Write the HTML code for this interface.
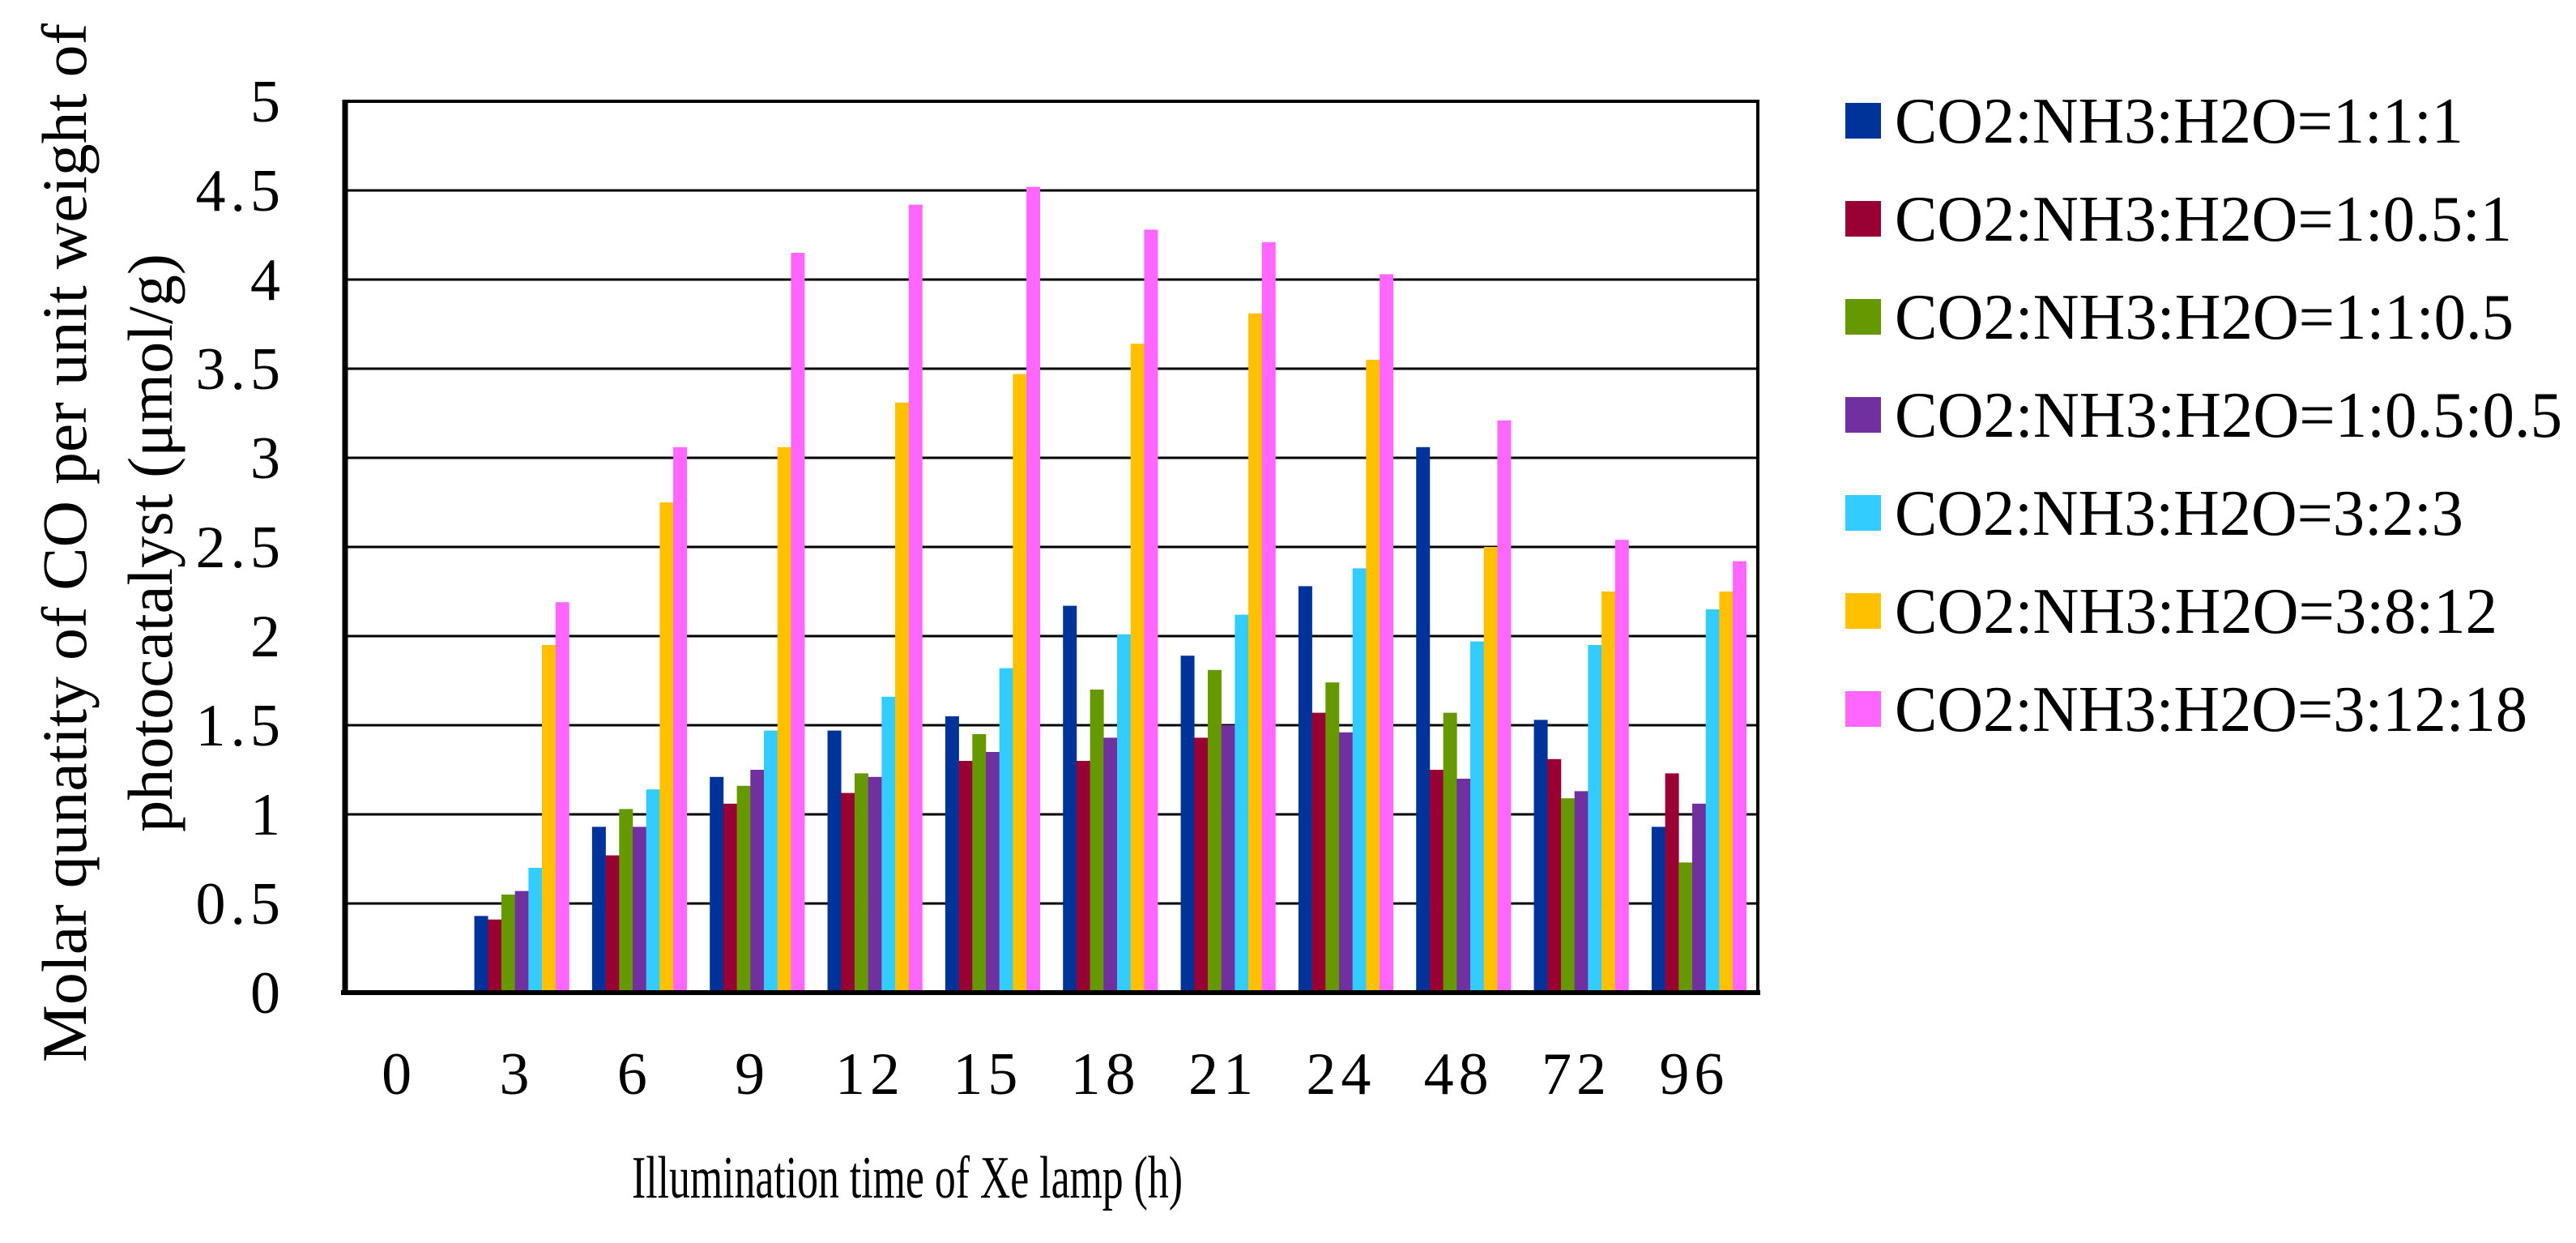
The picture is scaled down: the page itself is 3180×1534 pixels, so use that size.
<!DOCTYPE html>
<html><head><meta charset="utf-8"><style>
html,body{margin:0;padding:0;background:#fff;}
svg{display:block;}
svg text{font-family:"Liberation Serif","Times New Roman",serif;}
</style></head><body>
<svg id="chart" width="3180" height="1534" viewBox="0 0 3180 1534" xmlns="http://www.w3.org/2000/svg" font-family="Liberation Serif, serif">
<rect width="3180" height="1534" fill="#fff"/>
<g id="grid"></g>
<g id="bars"></g>
<g id="axes"></g>
<g id="legend"></g>
<text x="1120" y="1478" font-size="74" text-anchor="middle" font-family="Liberation Serif, serif" textLength="680" lengthAdjust="spacingAndGlyphs">Illumination  time  of Xe lamp (h)</text>
<text transform="translate(106,670) rotate(-90)" font-size="78" text-anchor="middle" font-family="Liberation Serif, serif" textLength="1282" lengthAdjust="spacingAndGlyphs">Molar qunatity of CO per unit weight of</text>
<text transform="translate(212,670) rotate(-90)" font-size="78" text-anchor="middle" font-family="Liberation Serif, serif" textLength="714" lengthAdjust="spacingAndGlyphs">photocatalyst (μmol/g)</text>
</svg>
<script>
const categories = ["0","3","6","9","12","15","18","21","24","48","72","96"];
const seriesNames = ["CO2:NH3:H2O=1:1:1","CO2:NH3:H2O=1:0.5:1","CO2:NH3:H2O=1:1:0.5","CO2:NH3:H2O=1:0.5:0.5","CO2:NH3:H2O=3:2:3","CO2:NH3:H2O=3:8:12","CO2:NH3:H2O=3:12:18"];
const s1 = [0,0.43,0.93,1.21,1.47,1.55,2.17,1.89,2.28,3.06,1.53,0.93];
const s2 = [0,0.41,0.77,1.06,1.12,1.30,1.30,1.43,1.57,1.25,1.31,1.23];
const s3 = [0,0.55,1.03,1.16,1.23,1.45,1.70,1.81,1.74,1.57,1.09,0.73];
const s4 = [0,0.57,0.93,1.25,1.21,1.35,1.43,1.50,1.46,1.20,1.13,1.06];
const s5 = [0,0.70,1.14,1.47,1.66,1.82,2.01,2.12,2.38,1.97,1.95,2.15];
const s6 = [0,1.95,2.75,3.06,3.31,3.47,3.64,3.81,3.55,2.50,2.25,2.25];
const s7 = [0,2.19,3.06,4.15,4.42,4.52,4.28,4.21,4.03,3.21,2.54,2.42];
const yTicks = ["0","0.5","1","1.5","2","2.5","3","3.5","4","4.5","5"];
const colors = ["#003399","#990033","#669900","#7030A0","#33CCFF","#FFC000","#FF66FF"];
const legendWidths = [702,762,764,824,702,744,781];

const NS="http://www.w3.org/2000/svg";
const L=426,R=2170,T=125,B=1225,yMax=5;
const y = v => B-(v/yMax)*(B-T);
const bw=(R-L)/categories.length;
const x = i => L+bw*i;
function mk(tag,attrs,parent){const e=document.createElementNS(NS,tag);for(const k in attrs)e.setAttribute(k,attrs[k]);parent.appendChild(e);return e;}
const grid=document.getElementById('grid'),bars=document.getElementById('bars'),axes=document.getElementById('axes'),legend=document.getElementById('legend');
yTicks.forEach(t=>{
  const v=parseFloat(t);
  if(v>0&&v<yMax){const g=mk('line',{x1:L,x2:R,y1:y(v),y2:y(v),stroke:'#000','stroke-width':3},grid);
  
  }
  const tx=mk('text',{x:352,y:y(v)+25,'font-size':74,'text-anchor':'end','letter-spacing':6,'font-family':'Liberation Serif, serif'},axes);tx.textContent=t;
  
  
});
const all=[s1,s2,s3,s4,s5,s6,s7];
const barW=16.7, groupW=barW*7;
categories.forEach((c,i)=>{
  const gx=x(i)+(bw-groupW)/2;
  all.forEach((s,k)=>{
    const v=s[i]; if(v<=0)return;
    const r=mk('rect',{x:gx+k*barW,y:y(v),width:barW+0.3,height:B-y(v),fill:colors[k]},bars);
    
    
  });
  const tx=mk('text',{x:x(i)+bw/2-6,y:1350,'font-size':74,'text-anchor':'middle','letter-spacing':6,'font-family':'Liberation Serif, serif'},axes);tx.textContent=c;
  
  
});
const fr=mk('rect',{x:L,y:T,width:R-L,height:B-T,fill:'none',stroke:'#000','stroke-width':4},axes);


const la=mk('line',{x1:L,x2:L,y1:T-2,y2:B+3,stroke:'#000','stroke-width':7},axes);


const ba=mk('line',{x1:L-5,x2:R+3,y1:B,y2:B,stroke:'#000','stroke-width':6},axes);


seriesNames.forEach((n,k)=>{
  const cy=149+k*121;
  const g=mk('g',{},legend);
  
  
  mk('rect',{x:2278,y:cy-22,width:44,height:44,fill:colors[k]},g);
  const t=mk('text',{x:2339,y:cy+27,'font-size':80,textLength:legendWidths[k],lengthAdjust:'spacingAndGlyphs','font-family':'Liberation Serif, serif'},g);
  t.textContent=n;
});
</script>
</body></html>
